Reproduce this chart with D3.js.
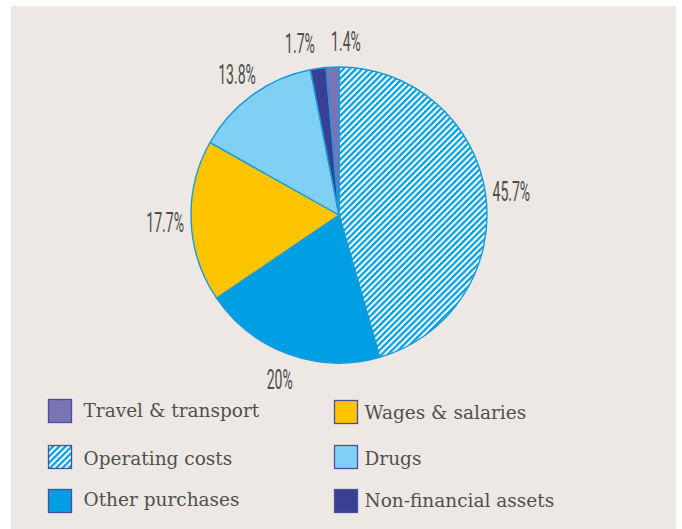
<!DOCTYPE html>
<html>
<head>
<meta charset="utf-8">
<style>
body{margin:0;background:#fff;}
</style>
</head>
<body>
<svg id="chart" width="682" height="529"></svg>
<script src="https://d3js.org/d3.v7.min.js"></script>
<script>
// slice order: clockwise from 12 o'clock
var categories = ['Operating costs','Other purchases','Wages & salaries','Drugs','Non-financial assets','Travel & transport'];
var values = [45.7, 20, 17.7, 13.8, 1.7, 1.4];
var labels = ['45.7%','20%','17.7%','13.8%','1.7%','1.4%'];
var colors = ['url(#hatch)','#009fe3','#ffc400','#80d0f5','#393f93','#7a73b6'];

// legend layout (two columns, as printed)
var legendLeft = ['Travel & transport','Operating costs','Other purchases'];
var legendRight = ['Wages & salaries','Drugs','Non-financial assets'];

var svg = d3.select('#chart');
var W = 682, H = 529;

svg.append('rect')
	.attr('x',11).attr('y',6)
	.attr('width',665).attr('height',H-6)
	.attr('fill','#ede8e4');

var defs = svg.append('defs');
var pat = defs.append('pattern')
	.attr('id','hatch')
	.attr('patternUnits','userSpaceOnUse')
	.attr('width',4.4).attr('height',4.4)
	.attr('patternTransform','rotate(45)');
pat.append('rect').attr('width',4.4).attr('height',4.4).attr('fill','#fff');
pat.append('rect').attr('width',2.3).attr('height',4.4).attr('fill','#009fe3');

var cx = 339, cy = 215, R = 148;

var pie = d3.pie().sort(null).value(function(d){return d;});
var arcs = pie(values);
var arc = d3.arc().innerRadius(0).outerRadius(R);
var labelArc = d3.arc().innerRadius(174).outerRadius(174);

var g = svg.append('g').attr('transform','translate('+cx+','+cy+')');

g.selectAll('path.slice')
	.data(arcs)
	.enter()
	.append('path')
	.attr('class','slice')
	.attr('d',arc)
	.attr('fill',function(d,i){return colors[i];})
	.attr('stroke','#1a9ad8')
	.attr('stroke-width',1.4)
	.attr('stroke-linejoin','round');

// label positions from the label arc, then nudge apart the ones that collide
var pos = arcs.map(function(d,i){
	var c = labelArc.centroid(d);
	return {x:c[0], y:c[1], txt:labels[i]};
});
for(var k=0;k<5;k++){
	for(var i=0;i<pos.length;i++){
		for(var j=i+1;j<pos.length;j++){
			var a = pos[i], b = pos[j];
			if(Math.abs(a.y-b.y) < 22 && Math.abs(a.x-b.x) < 46){
				var push = (46-Math.abs(a.x-b.x))/2;
				if(a.x < b.x){a.x -= push; b.x += push;}
				else{a.x += push; b.x -= push;}
			}
		}
	}
}

g.selectAll('text.pct')
	.data(pos)
	.enter()
	.append('text')
	.attr('class','pct')
	.attr('transform',function(d){return 'translate('+d.x+','+(d.y+10)+') scale(0.52,1)';})
	.attr('text-anchor','middle')
	.style('font-family','Roboto, "Liberation Sans Narrow", sans-serif')
	.style('font-weight',400)
	.style('font-size','27px')
	.style('fill','#4d4d4d')
	.text(function(d){return d.txt;});

// legend
function legendColumn(list, x0, gap, rows, baselines){
	list.forEach(function(name,i){
		var ci = categories.indexOf(name);
		svg.append('rect')
			.attr('x',x0).attr('y',rows[i])
			.attr('width',23).attr('height',23)
			.attr('fill',colors[ci])
			.attr('stroke','#4a4f9e')
			.attr('stroke-width',1.3);
		svg.append('text')
			.attr('x',x0+gap).attr('y',baselines[i])
			.style('font-family','"DejaVu Serif", serif')
			.style('font-size','18.5px')
			.style('fill','#505050')
			.text(name);
	});
}
legendColumn(legendLeft, 48.5, 35, [399.5,445.5,489.5], [417,465,506]);
legendColumn(legendRight, 334.5, 30, [400.5,445.5,489.5], [419,465,507]);
</script>
</body>
</html>
